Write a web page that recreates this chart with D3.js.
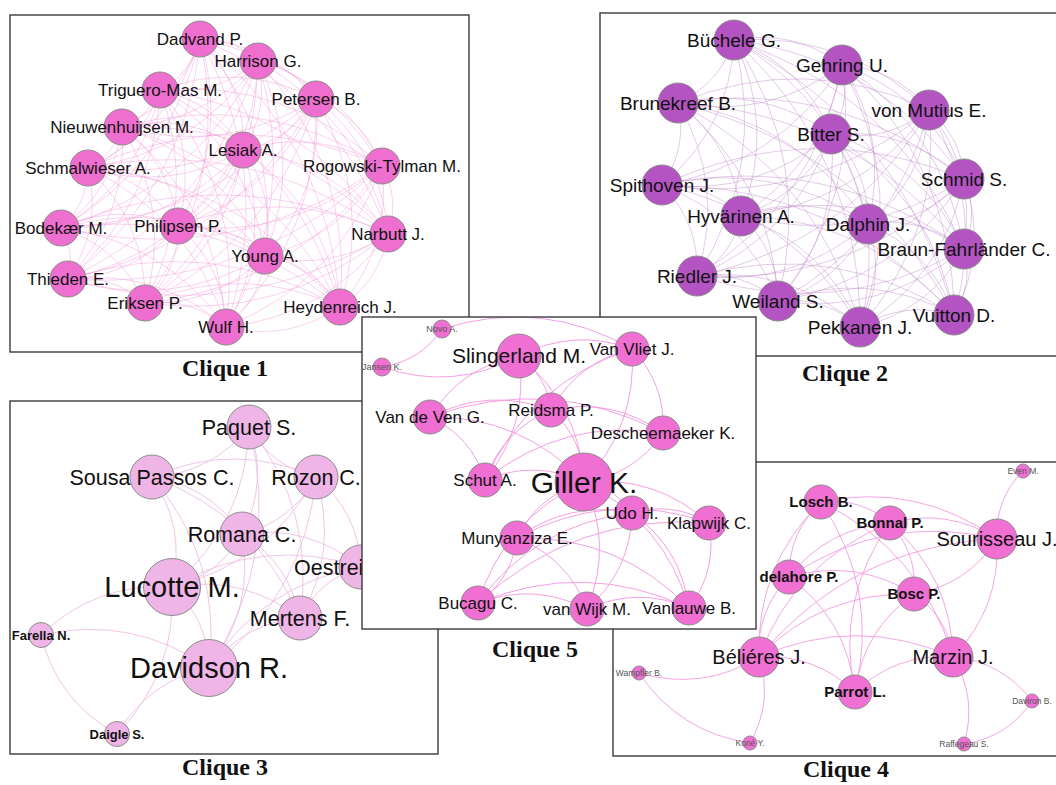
<!DOCTYPE html>
<html>
<head>
<meta charset="utf-8">
<script src="https://cdn.jsdelivr.net/npm/d3@7"></script>
<style>
  body { margin: 0; background: #fff; }
  svg { display: block; }
</style>
</head>
<body>
<svg id="chart" width="1056" height="785"></svg>
<script>
// node layouts (layout units inside each panel) and weights
const clique1Nodes = [
  { name: "Dadvand P.", x: 190, y: 24, w: 10 },
  { name: "Harrison G.", x: 248, y: 46, w: 10 },
  { name: "Triguero-Mas M.", x: 150, y: 75, w: 10 },
  { name: "Petersen B.", x: 306, y: 84, w: 10 },
  { name: "Nieuwenhuijsen M.", x: 112, y: 112, w: 10 },
  { name: "Lesiak A.", x: 233, y: 135, w: 10 },
  { name: "Schmalwieser A.", x: 78, y: 153, w: 10 },
  { name: "Rogowski-Tylman M.", x: 372, y: 151, w: 10 },
  { name: "Bodekær M.", x: 51, y: 213, w: 10 },
  { name: "Philipsen P.", x: 168, y: 211, w: 10 },
  { name: "Narbutt J.", x: 378, y: 219, w: 10 },
  { name: "Young A.", x: 255, y: 241, w: 10 },
  { name: "Thieden E.", x: 58, y: 264, w: 10 },
  { name: "Eriksen P.", x: 135, y: 288, w: 10 },
  { name: "Heydenreich J.", x: 330, y: 292, w: 10 },
  { name: "Wulf H.", x: 216, y: 312, w: 10 }
];

const clique2Nodes = [
  { name: "Büchele G.", x: 134, y: 27, w: 10 },
  { name: "Gehring U.", x: 242, y: 52, w: 10 },
  { name: "Brunekreef B.", x: 78, y: 90, w: 10 },
  { name: "von Mutius E.", x: 329, y: 97, w: 10 },
  { name: "Bitter S.", x: 231, y: 121, w: 10 },
  { name: "Spithoven J.", x: 62, y: 172, w: 10 },
  { name: "Schmid S.", x: 364, y: 166, w: 10 },
  { name: "Hyvärinen A.", x: 141, y: 203, w: 10 },
  { name: "Dalphin J.", x: 268, y: 211, w: 10 },
  { name: "Braun-Fahrländer C.", x: 364, y: 236, w: 10 },
  { name: "Riedler J.", x: 97, y: 263, w: 10 },
  { name: "Weiland S.", x: 178, y: 288, w: 10 },
  { name: "Pekkanen J.", x: 260, y: 314, w: 10 },
  { name: "Vuitton D.", x: 354, y: 302, w: 10 }
];

const clique3Nodes = [
  { name: "Paquet S.", x: 239, y: 26, w: 8 },
  { name: "Sousa Passos C.", x: 142, y: 76, w: 8 },
  { name: "Rozon C.", x: 306, y: 76, w: 8 },
  { name: "Romana C.", x: 232, y: 133, w: 8 },
  { name: "Oestreicher J.", x: 351, y: 166, w: 8 },
  { name: "Lucotte M.", x: 162, y: 186, w: 12 },
  { name: "Mertens F.", x: 290, y: 217, w: 8 },
  { name: "Farella N.", x: 31, y: 234, w: 3 },
  { name: "Davidson R.", x: 199, y: 267, w: 12 },
  { name: "Daigle S.", x: 107, y: 333, w: 3 }
];

const clique3Links = [
  ["Paquet S.", "Sousa Passos C."], ["Rozon C.", "Paquet S."], ["Paquet S.", "Romana C."],
  ["Paquet S.", "Mertens F."], ["Paquet S.", "Davidson R."], ["Paquet S.", "Lucotte M."],
  ["Sousa Passos C.", "Rozon C."], ["Sousa Passos C.", "Romana C."], ["Sousa Passos C.", "Lucotte M."],
  ["Sousa Passos C.", "Mertens F."], ["Sousa Passos C.", "Davidson R."],
  ["Rozon C.", "Romana C."], ["Rozon C.", "Lucotte M."], ["Rozon C.", "Mertens F."],
  ["Rozon C.", "Oestreicher J."], ["Rozon C.", "Davidson R."],
  ["Romana C.", "Lucotte M."], ["Romana C.", "Mertens F."], ["Romana C.", "Oestreicher J."],
  ["Romana C.", "Davidson R."], ["Lucotte M.", "Mertens F."], ["Lucotte M.", "Davidson R."],
  ["Lucotte M.", "Oestreicher J."], ["Farella N.", "Lucotte M."], ["Lucotte M.", "Daigle S."],
  ["Mertens F.", "Oestreicher J."], ["Davidson R.", "Mertens F."], ["Davidson R.", "Oestreicher J."],
  ["Farella N.", "Davidson R."], ["Daigle S.", "Farella N."], ["Daigle S.", "Davidson R."]
];

const clique4Nodes = [
  { name: "Losch B.", x: 208, y: 40, w: 7 },
  { name: "Bonnal P.", x: 277, y: 61, w: 7 },
  { name: "Sourisseau J.", x: 384, y: 77, w: 9 },
  { name: "delahore P.", x: 176, y: 115, w: 7, dx: 10 },
  { name: "Bosc P.", x: 301, y: 132, w: 7 },
  { name: "Béliéres J.", x: 146, y: 195, w: 9 },
  { name: "Marzin J.", x: 340, y: 195, w: 9 },
  { name: "Parrot L.", x: 242, y: 230, w: 7 },
  { name: "Wampfler B.", x: 26, y: 211, w: 2 },
  { name: "Koné Y.", x: 137, y: 281, w: 2 },
  { name: "Daviron B.", x: 419, y: 239, w: 2 },
  { name: "Raffegeau S.", x: 351, y: 282, w: 2 },
  { name: "Even M.", x: 410, y: 9, w: 2 }
];

const clique4Links = [
  ["Losch B.", "Bonnal P."], ["Losch B.", "Sourisseau J."], ["delahore P.", "Losch B."],
  ["Béliéres J.", "Losch B."], ["Losch B.", "Parrot L."], ["Losch B.", "Marzin J."],
  ["Bonnal P.", "Sourisseau J."], ["Bonnal P.", "Bosc P."], ["Bonnal P.", "Marzin J."],
  ["Parrot L.", "Bonnal P."], ["Béliéres J.", "Bonnal P."], ["delahore P.", "Bonnal P."],
  ["Sourisseau J.", "Bosc P."], ["Sourisseau J.", "Marzin J."], ["Sourisseau J.", "Even M."],
  ["delahore P.", "Sourisseau J."], ["Béliéres J.", "Sourisseau J."],
  ["delahore P.", "Bosc P."], ["Béliéres J.", "delahore P."], ["delahore P.", "Parrot L."],
  ["Béliéres J.", "Bosc P."], ["Parrot L.", "Bosc P."], ["Bosc P.", "Marzin J."],
  ["Béliéres J.", "Marzin J."], ["Béliéres J.", "Parrot L."], ["Parrot L.", "Marzin J."],
  ["Béliéres J.", "Wampfler B."], ["Béliéres J.", "Koné Y."], ["Koné Y.", "Wampfler B."],
  ["Marzin J.", "Daviron B."], ["Marzin J.", "Raffegeau S."], ["Daviron B.", "Raffegeau S."]
];

const clique5Nodes = [
  { name: "Novo A.", x: 80, y: 12, w: 2 },
  { name: "Jansen K.", x: 20, y: 50, w: 2 },
  { name: "Slingerland M.", x: 157, y: 39, w: 10 },
  { name: "Van Vliet J.", x: 270, y: 32, w: 7 },
  { name: "Van de Ven G.", x: 68, y: 100, w: 7 },
  { name: "Reidsma P.", x: 189, y: 93, w: 7 },
  { name: "Descheemaeker K.", x: 301, y: 116, w: 7 },
  { name: "Schut A.", x: 123, y: 163, w: 7 },
  { name: "Giller K.", x: 222, y: 165, w: 14 },
  { name: "Udo H.", x: 270, y: 196, w: 7 },
  { name: "Klapwijk C.", x: 347, y: 206, w: 7 },
  { name: "Munyanziza E.", x: 155, y: 221, w: 7 },
  { name: "Bucagu C.", x: 116, y: 286, w: 7 },
  { name: "van Wijk M.", x: 225, y: 292, w: 7 },
  { name: "Vanlauwe B.", x: 327, y: 291, w: 7 }
];

const clique5Links = [
  ["Novo A.", "Jansen K."], ["Novo A.", "Van Vliet J."], ["Slingerland M.", "Jansen K."],
  ["Slingerland M.", "Van Vliet J."], ["Slingerland M.", "Reidsma P."], ["Slingerland M.", "Giller K."],
  ["Van de Ven G.", "Slingerland M."], ["Slingerland M.", "Schut A."],
  ["Reidsma P.", "Van Vliet J."], ["Van Vliet J.", "Giller K."], ["Van Vliet J.", "Descheemaeker K."],
  ["Schut A.", "Van Vliet J."], ["Van de Ven G.", "Reidsma P."], ["Van de Ven G.", "Giller K."],
  ["Van de Ven G.", "Schut A."], ["Van de Ven G.", "Descheemaeker K."],
  ["Reidsma P.", "Giller K."], ["Schut A.", "Reidsma P."], ["Reidsma P.", "Descheemaeker K."],
  ["Descheemaeker K.", "Giller K."], ["Schut A.", "Descheemaeker K."], ["Schut A.", "Giller K."],
  ["Giller K.", "Udo H."], ["Munyanziza E.", "Giller K."], ["Bucagu C.", "Giller K."],
  ["Giller K.", "van Wijk M."], ["Giller K.", "Vanlauwe B."], ["Giller K.", "Klapwijk C."],
  ["Udo H.", "Klapwijk C."], ["Munyanziza E.", "Udo H."], ["Bucagu C.", "Udo H."],
  ["Udo H.", "van Wijk M."], ["Udo H.", "Vanlauwe B."], ["Munyanziza E.", "Klapwijk C."],
  ["Klapwijk C.", "Vanlauwe B."], ["Bucagu C.", "Klapwijk C."], ["Munyanziza E.", "Bucagu C."],
  ["Munyanziza E.", "van Wijk M."], ["Munyanziza E.", "Vanlauwe B."], ["Bucagu C.", "van Wijk M."],
  ["Bucagu C.", "Vanlauwe B."], ["van Wijk M.", "Vanlauwe B."]
];

const captions = ["Clique 1", "Clique 2", "Clique 3", "Clique 4", "Clique 5"];

// a clique links every pair of its members
function allPairs(nodes) {
  const out = [];
  for (let i = 0; i < nodes.length; i++)
    for (let j = i + 1; j < nodes.length; j++) out.push([nodes[i].name, nodes[j].name]);
  return out;
}

const panels = [
  { box: [10, 15, 459, 337], nodes: clique1Nodes, links: allPairs(clique1Nodes),
    fill: "#ee6fcf", edge: "#f29bd9", edgeOpacity: 0.45,
    wDomain: [0, 10], rRange: [0, 18], fRange: [0, 17], caption: [225, 376] },
  { box: [600, 13, 470, 343], nodes: clique2Nodes, links: allPairs(clique2Nodes),
    fill: "#b354c2", edge: "#c28ccd", edgeOpacity: 0.45,
    wDomain: [0, 10], rRange: [0, 20], fRange: [0, 19], caption: [845, 381] },
  { box: [10, 401, 428, 353], nodes: clique3Nodes, links: clique3Links,
    fill: "#efb5e6", edge: "#eebfe3", edgeOpacity: 0.9,
    wDomain: [3, 8, 12], rRange: [12.5, 22, 28.5], fRange: [13, 21.5, 29],
    bold: d => d.w <= 3, caption: [225, 775] },
  { box: [613, 462, 460, 294], nodes: clique4Nodes, links: clique4Links,
    fill: "#f070d4", edge: "#f49be0", edgeOpacity: 0.9,
    wDomain: [2, 7, 9], rRange: [7, 17, 20], fRange: [8.5, 15, 20],
    bold: d => d.w === 7, caption: [846, 777] },
  { box: [362, 317, 394, 312], nodes: clique5Nodes, links: clique5Links,
    fill: "#ef6fd2", edge: "#f396de", edgeOpacity: 0.9,
    wDomain: [2, 7, 10, 14], rRange: [9, 17, 22, 29], fRange: [9, 17, 21, 30],
    caption: [535, 657] }
];

const svg = d3.select("#chart");
const defs = svg.append("defs");

function drawPanel(p, idx) {
  const [x0, y0, w, h] = p.box;
  const x = d3.scaleLinear().domain([0, w]).range([x0, x0 + w]);
  const y = d3.scaleLinear().domain([0, h]).range([y0, y0 + h]);
  const r = d3.scaleLinear().domain(p.wDomain).range(p.rRange);
  const fs = d3.scaleLinear().domain(p.wDomain).range(p.fRange);
  const byName = new Map(p.nodes.map(d => [d.name, d]));

  defs.append("clipPath").attr("id", "clip" + idx)
    .append("rect").attr("x", x0).attr("y", y0).attr("width", w).attr("height", h);

  const g = svg.append("g");
  g.append("rect")
    .attr("x", x0).attr("y", y0).attr("width", w).attr("height", h)
    .attr("fill", "#fff");

  const inner = g.append("g").attr("clip-path", `url(#clip${idx})`);

  // curved edges, all bending the same way (gephi style)
  inner.append("g")
    .attr("fill", "none")
    .attr("stroke", p.edge)
    .attr("stroke-opacity", p.edgeOpacity)
    .attr("stroke-width", 1)
    .selectAll("path")
    .data(p.links)
    .join("path")
    .attr("d", ([s, t]) => {
      const a = byName.get(s), b = byName.get(t);
      const ax = x(a.x), ay = y(a.y), bx = x(b.x), by = y(b.y);
      const dx = bx - ax, dy = by - ay;
      const path = d3.path();
      path.moveTo(ax, ay);
      path.quadraticCurveTo((ax + bx) / 2 + dy * 0.22, (ay + by) / 2 - dx * 0.22, bx, by);
      return path.toString();
    });

  inner.append("g")
    .attr("fill", p.fill)
    .attr("stroke", "#8c8c8c")
    .attr("stroke-width", 1)
    .selectAll("circle")
    .data(p.nodes)
    .join("circle")
    .attr("cx", d => x(d.x))
    .attr("cy", d => y(d.y))
    .attr("r", d => r(d.w));

  inner.append("g")
    .attr("font-family", "'Liberation Sans', Arial, sans-serif")
    .attr("text-anchor", "middle")
    .selectAll("text")
    .data(p.nodes)
    .join("text")
    .attr("x", d => x(d.x) + (d.dx || 0))
    .attr("y", d => y(d.y))
    .attr("dy", "0.35em")
    .attr("font-size", d => fs(d.w))
    .attr("font-weight", d => (p.bold && p.bold(d)) ? "bold" : null)
    .attr("fill", d => d.w <= 2 ? "#555" : "#111")
    .text(d => d.name);

  g.append("rect")
    .attr("x", x0).attr("y", y0).attr("width", w).attr("height", h)
    .attr("fill", "none")
    .attr("stroke", "#3a3a3a")
    .attr("stroke-width", 1.4);
}

panels.forEach((p, i) => drawPanel(p, i));

svg.append("g")
  .attr("font-family", "'Liberation Serif', 'Times New Roman', serif")
  .attr("font-weight", "bold")
  .attr("font-size", 24)
  .attr("text-anchor", "middle")
  .attr("fill", "#111")
  .selectAll("text")
  .data(panels)
  .join("text")
  .attr("x", d => d.caption[0])
  .attr("y", d => d.caption[1])
  .text((d, i) => captions[i]);
</script>
</body>
</html>
